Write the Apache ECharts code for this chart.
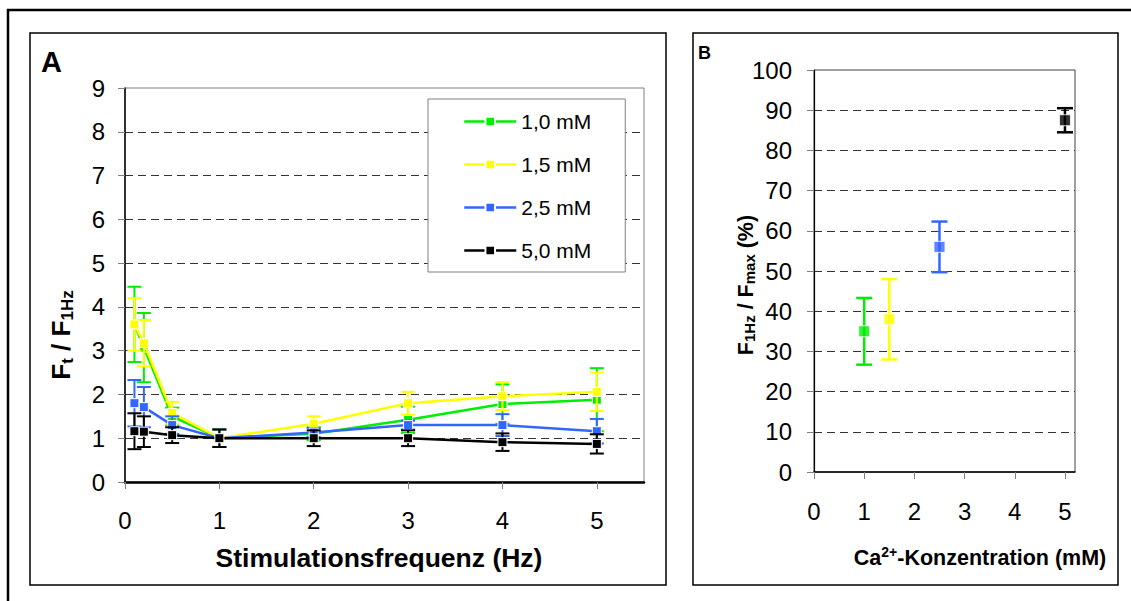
<!DOCTYPE html>
<html>
<head>
<meta charset="utf-8">
<script src="https://cdn.jsdelivr.net/npm/echarts@6/dist/echarts.min.js"></script>
<style>
html, body { margin: 0; padding: 0; background: #fff; }
#chart { width: 1131px; height: 601px; }
</style>
</head>
<body>
<div id="chart"></div>
<script>
// Panel A: F_t / F_1Hz against stimulation frequency, one series per Ca2+ concentration
var freqHz = [0.1, 0.2, 0.5, 1, 2, 3, 4, 5];
var ratio10 = [3.6, 3.07, 1.5, 1.0, 1.1, 1.42, 1.78, 1.88];
var err10 = [0.86, 0.79, 0.2, 0.2, 0.15, 0.3, 0.45, 0.72];
var ratio15 = [3.6, 3.17, 1.58, 1.0, 1.33, 1.8, 1.96, 2.06];
var err15 = [0.6, 0.53, 0.25, 0.2, 0.17, 0.26, 0.32, 0.44];
var ratio25 = [1.8, 1.71, 1.3, 1.0, 1.13, 1.3, 1.3, 1.16];
var err25 = [0.53, 0.46, 0.2, 0.2, 0.1, 0.1, 0.25, 0.28];
var ratio50 = [1.16, 1.15, 1.07, 1.0, 1.0, 1.0, 0.91, 0.87];
var err50 = [0.41, 0.35, 0.18, 0.2, 0.18, 0.18, 0.2, 0.22];
var seriesNames = ['1,0 mM', '1,5 mM', '2,5 mM', '5,0 mM'];
var xTicksA = [0, 1, 2, 3, 4, 5];

// Panel B: F_1Hz / F_max (%) against Ca2+ concentration
var caConc = [1.0, 1.5, 2.5, 5.0];
var f1HzPct = [35, 38, 56, 87.5];
var f1HzErr = [8.3, 10, 6.3, 3];
var xTicksB = [0, 1, 2, 3, 4, 5];

var colors = ['#00ee00', '#ffff00', '#3366ff', '#000000'];
var font = '"Liberation Sans", Arial, sans-serif';

var chart = echarts.init(document.getElementById('chart'), null, { renderer: 'svg' });

function errorBars(capHalf, lineW) {
  return function (params, api) {
    var x = api.value(0);
    var top = api.coord([x, api.value(2)]);
    var bot = api.coord([x, api.value(1)]);
    var c = colors[api.value(3)];
    var st = { stroke: c, lineWidth: lineW };
    return {
      type: 'group',
      children: [
        { type: 'line', shape: { x1: top[0], y1: top[1], x2: bot[0], y2: bot[1] }, style: st },
        { type: 'line', shape: { x1: top[0] - capHalf, y1: top[1], x2: top[0] + capHalf, y2: top[1] }, style: st },
        { type: 'line', shape: { x1: bot[0] - capHalf, y1: bot[1], x2: bot[0] + capHalf, y2: bot[1] }, style: st }
      ]
    };
  };
}

var means = [ratio10, ratio15, ratio25, ratio50];
var errs = [err10, err15, err25, err50];
var series = [];
means.forEach(function (m, k) {
  series.push({
    name: 'err ' + seriesNames[k],
    type: 'custom',
    xAxisIndex: 0, yAxisIndex: 0,
    renderItem: errorBars(7, 2),
    encode: { x: 0, y: [1, 2] },
    data: freqHz.map(function (f, i) { return [f, m[i] - errs[k][i], m[i] + errs[k][i], k]; }),
    z: 2 + k * 2
  });
  series.push({
    name: seriesNames[k],
    type: 'line',
    xAxisIndex: 0, yAxisIndex: 0,
    data: freqHz.map(function (f, i) { return [f, m[i]]; }),
    symbol: 'rect',
    symbolSize: 9,
    showAllSymbol: true,
    itemStyle: { color: colors[k], borderColor: '#fff', borderWidth: 1 },
    lineStyle: { color: colors[k], width: 2.5 },
    z: 3 + k * 2
  });
});

series.push({
  name: 'errB',
  type: 'custom',
  xAxisIndex: 1, yAxisIndex: 1,
  renderItem: errorBars(8, 2.5),
  encode: { x: 0, y: [1, 2] },
  data: caConc.map(function (c, i) { return [c, f1HzPct[i] - f1HzErr[i], f1HzPct[i] + f1HzErr[i], i]; }),
  z: 3
});
series.push({
  name: 'ratioB',
  type: 'scatter',
  xAxisIndex: 1, yAxisIndex: 1,
  symbol: 'rect',
  symbolSize: 11,
  data: caConc.map(function (c, i) {
    return { value: [c, f1HzPct[i]], itemStyle: { color: colors[i], borderColor: '#fff', borderWidth: 1 } };
  }),
  z: 4
});

var tickLabel = { fontSize: 24, color: '#000', fontFamily: font };
var dashed = { show: true, showMinLine: false, showMaxLine: false, lineStyle: { color: '#333', type: [8, 5], width: 1 } };

var titleRich = {
  m: { fontSize: 26, fontWeight: 'bold', fontFamily: font, lineHeight: 28, verticalAlign: 'top', fill: '#000' },
  s: { fontSize: 17, fontWeight: 'bold', fontFamily: font, lineHeight: 17, verticalAlign: 'bottom', padding: [14, 0, 0, 0], fill: '#000' }
};
var titleRichB = {
  m: { fontSize: 21.5, fontWeight: 'bold', fontFamily: font, lineHeight: 24, verticalAlign: 'bottom', fill: '#000' },
  s: { fontSize: 15, fontWeight: 'bold', fontFamily: font, lineHeight: 15, verticalAlign: 'bottom', padding: [12, 0, 0, 0], fill: '#000' },
  u: { fontSize: 14, fontWeight: 'bold', fontFamily: font, lineHeight: 14, verticalAlign: 'top', fill: '#000' }
};

chart.setOption({
  animation: false,
  backgroundColor: '#fff',
  grid: [
    { left: 125, top: 88, width: 519, height: 394, show: true, borderColor: '#808080', borderWidth: 1 },
    { left: 814, top: 70, width: 261, height: 402, show: true, borderColor: '#404040', borderWidth: 1 }
  ],
  xAxis: [
    {
      gridIndex: 0, type: 'value', min: 0, max: 5.5, interval: 1,
      axisLine: { onZero: false, lineStyle: { color: '#000', width: 2.5 } },
      axisTick: { length: 7, customValues: xTicksA, lineStyle: { color: '#808080' } },
      axisLabel: Object.assign({ customValues: xTicksA, margin: 26 }, tickLabel),
      splitLine: { show: false }
    },
    {
      gridIndex: 1, type: 'value', min: 0, max: 5.2, interval: 1,
      axisLine: { onZero: false, lineStyle: { color: '#000', width: 1.5 } },
      axisTick: { length: 7, customValues: xTicksB, lineStyle: { color: '#808080' } },
      axisLabel: Object.assign({ customValues: xTicksB, margin: 27 }, tickLabel),
      splitLine: { show: false }
    }
  ],
  yAxis: [
    {
      gridIndex: 0, type: 'value', min: 0, max: 9, interval: 1,
      axisLine: { show: true, onZero: false, lineStyle: { color: '#000', width: 1.5 } },
      axisTick: { show: true, length: 7, lineStyle: { color: '#808080' } },
      axisLabel: Object.assign({ margin: 20 }, tickLabel),
      splitLine: dashed
    },
    {
      gridIndex: 1, type: 'value', min: 0, max: 100, interval: 10,
      axisLine: { show: true, onZero: false, lineStyle: { color: '#000', width: 1.2 } },
      axisTick: { show: true, length: 7, lineStyle: { color: '#808080' } },
      axisLabel: Object.assign({ margin: 22 }, tickLabel),
      splitLine: dashed
    }
  ],
  legend: {
    data: seriesNames,
    orient: 'vertical',
    left: 428, top: 99,
    padding: [12, 34, 11, 35],
    itemGap: 22,
    itemWidth: 52,
    itemHeight: 12,
    backgroundColor: '#fff',
    borderColor: '#808080',
    borderWidth: 1,
    selectedMode: false,
    lineStyle: { width: 2.5 },
    textStyle: { fontSize: 21, color: '#000', fontFamily: font }
  },
  graphic: [
    { type: 'rect', z: -10, shape: { x: 8, y: 10, width: 1300, height: 800 }, style: { fill: 'none', stroke: '#000', lineWidth: 2.5 } },
    { type: 'rect', z: -10, shape: { x: 30, y: 33, width: 636, height: 552 }, style: { fill: 'none', stroke: '#000', lineWidth: 1.5 } },
    { type: 'rect', z: -10, shape: { x: 693, y: 33, width: 425, height: 552 }, style: { fill: 'none', stroke: '#000', lineWidth: 1.5 } },
    { type: 'text', x: 41, y: 47, style: { text: 'A', fontSize: 29, fontWeight: 'bold', fontFamily: font, fill: '#000', align: 'left', verticalAlign: 'top' } },
    { type: 'text', x: 698, y: 44, style: { text: 'B', fontSize: 18, fontWeight: 'bold', fontFamily: font, fill: '#000', align: 'left', verticalAlign: 'top' } },
    { type: 'text', x: 379, y: 558, style: { text: 'Stimulationsfrequenz (Hz)', fontSize: 26.5, fontWeight: 'bold', fontFamily: font, fill: '#000', align: 'center', verticalAlign: 'middle' } },
    { type: 'text', x: 62, y: 335, rotation: Math.PI / 2, style: { text: '{m|F}{s|t}{m| / F}{s|1Hz}', rich: titleRich, align: 'center', verticalAlign: 'middle' } },
    { type: 'text', x: 980, y: 557, style: { text: '{m|Ca}{u|2+}{m|-Konzentration (mM)}', rich: titleRichB, align: 'center', verticalAlign: 'middle' } },
    { type: 'text', x: 745, y: 285, rotation: Math.PI / 2, style: { text: '{m|F}{s|1Hz}{m| / F}{s|max}{m| (%)}', rich: titleRichB, align: 'center', verticalAlign: 'middle' } }
  ],
  series: series
});
</script>
</body>
</html>
